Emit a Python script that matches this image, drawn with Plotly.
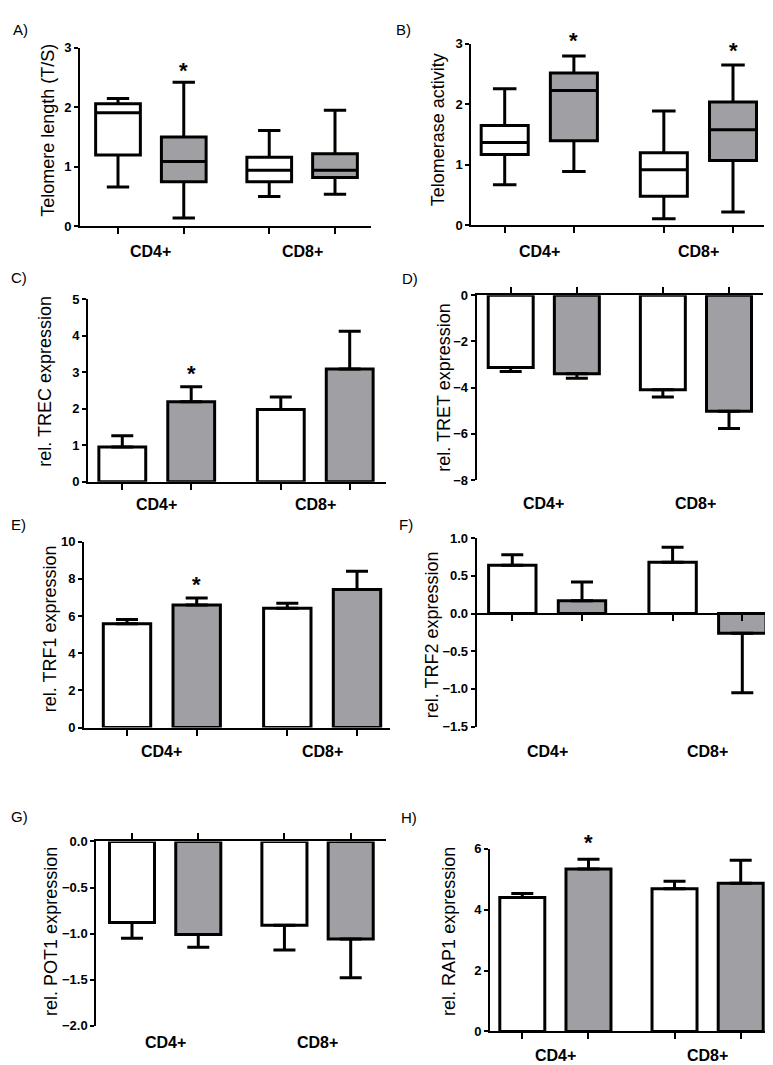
import plotly.graph_objects as go

# ---------------- data ----------------
groups = ["CD4+", "CD8+"]

# Panel A: Telomere length (T/S) box stats  [CD4 white, CD4 grey, CD8 white, CD8 grey]
A_lo = [0.66, 0.14, 0.50, 0.54]
A_q1 = [1.20, 0.75, 0.75, 0.82]
A_med = [1.91, 1.09, 0.94, 0.94]
A_q3 = [2.06, 1.50, 1.16, 1.22]
A_hi = [2.15, 2.42, 1.61, 1.95]
A_star = [None, 2.67, None, None]

# Panel B: Telomerase activity box stats
B_lo = [0.67, 0.89, 0.11, 0.22]
B_q1 = [1.17, 1.40, 0.48, 1.07]
B_med = [1.37, 2.23, 0.92, 1.58]
B_q3 = [1.65, 2.52, 1.20, 2.04]
B_hi = [2.26, 2.80, 1.89, 2.65]
B_star = [None, 3.10, None, 2.94]

# Bar panels: mean and error
C_mean = [0.95, 2.19, 1.98, 3.09]
C_err = [0.31, 0.41, 0.34, 1.03]
C_star = [None, 3.06, None, None]

D_mean = [-3.13, -3.40, -4.09, -5.02]
D_err = [0.17, 0.19, 0.31, 0.75]
D_star = [None, None, None, None]

E_mean = [5.58, 6.60, 6.42, 7.43]
E_err = [0.23, 0.37, 0.27, 0.98]
E_star = [None, 7.84, None, None]

F_mean = [0.64, 0.17, 0.68, -0.26]
F_err = [0.14, 0.25, 0.20, 0.79]
F_star = [None, None, None, None]

G_mean = [-0.88, -1.01, -0.91, -1.06]
G_err = [0.17, 0.14, 0.27, 0.42]
G_star = [None, None, None, None]

H_mean = [4.40, 5.34, 4.69, 4.87]
H_err = [0.13, 0.32, 0.24, 0.75]
H_star = [None, 6.29, None, None]

y_titles = {
    "A": "Telomere length (T/S)",
    "B": "Telomerase activity",
    "C": "rel. TREC expression",
    "D": "rel. TRET expression",
    "E": "rel. TRF1 expression",
    "F": "rel. TRF2 expression",
    "G": "rel. POT1 expression",
    "H": "rel. RAP1 expression",
}
y_ticks = {
    "A": [0, 1, 2, 3],
    "B": [0, 1, 2, 3],
    "C": [0, 1, 2, 3, 4, 5],
    "D": [0, -2, -4, -6, -8],
    "E": [0, 2, 4, 6, 8, 10],
    "F": [1.0, 0.5, 0.0, -0.5, -1.0, -1.5],
    "G": [0.0, -0.5, -1.0, -1.5, -2.0],
    "H": [0, 2, 4, 6],
}

# ---------------- layout / style ----------------
W, H = 773, 1065
FONT = "Liberation Sans, Arial, Helvetica, sans-serif"
GREY = "rgb(160,160,164)"
fills = ["white", GREY, "white", GREY]
xpos = [0, 1, 2.3, 3.3]
BW = 0.68

spec = {
    "A": dict(L=72, R=363, t0=110, t3=327, top=33.3, bot=214.3, yr=[0, 3], side="bottom", fmt="",
              cat_y=240, let=(3, 15), tt=(40, 117.5)),
    "B": dict(L=463.3, R=756, t0=496.7, t3=725, top=29.3, bot=213.3, yr=[0, 3], side="bottom", fmt="",
              cat_y=240, let=(386, 15), tt=(430, 117)),
    "C": dict(L=80, R=378.3, t0=114.3, t3=341.7, top=288.3, bot=473.3, yr=[0, 5], side="bottom", fmt="",
              cat_y=496.7, let=(1, 266), tt=(37, 372)),
    "D": dict(L=468.7, R=755.3, t0=502.7, t3=721, top=284.3, bot=471.7, yr=[-8, 0], side="top", fmt="",
              cat_y=495, let=(392, 267), tt=(436, 378)),
    "E": dict(L=76, R=381.7, t0=119, t3=349, top=534.3, bot=722.7, yr=[0, 10], side="bottom", fmt="",
              cat_y=746.7, let=(1, 517), tt=(42, 623)),
    "F": dict(L=468.7, R=766, t0=504.3, t3=734.3, top=530.7, bot=721.7, yr=[-1.5, 1.0], side="zero", fmt=".1f",
              cat_y=746.7, let=(389, 517), tt=(424, 629)),
    "G": dict(L=88.3, R=378.3, t0=124, t3=342.7, top=838.3, bot=1025, yr=[-2, 0], side="top", fmt=".1f",
              cat_y=1041.7, let=(1, 813), tt=(43, 930)),
    "H": dict(L=482, R=767.7, t0=514.3, t3=732.7, top=845.7, bot=1031, yr=[0, 6], side="bottom", fmt="",
              cat_y=1055, let=(391, 814), tt=(441, 930)),
}

box_data = {"A": (A_lo, A_q1, A_med, A_q3, A_hi, A_star),
            "B": (B_lo, B_q1, B_med, B_q3, B_hi, B_star)}
bar_data = {"C": (C_mean, C_err, C_star), "D": (D_mean, D_err, D_star),
            "E": (E_mean, E_err, E_star), "F": (F_mean, F_err, F_star),
            "G": (G_mean, G_err, G_star), "H": (H_mean, H_err, H_star)}

fig = go.Figure()
layout = {}
annotations = []


def px_x(x):
    return x / W


def px_y(y):
    return 1 - y / H


order = ["A", "B", "C", "D", "E", "F", "G", "H"]
for i, key in enumerate(order):
    s = spec[key]
    n = i + 1
    xa = "x" if n == 1 else f"x{n}"
    ya = "y" if n == 1 else f"y{n}"
    xname = "xaxis" if n == 1 else f"xaxis{n}"
    yname = "yaxis" if n == 1 else f"yaxis{n}"
    unit = (s["t3"] - s["t0"]) / (xpos[3] - xpos[0])
    xr = [(s["L"] - s["t0"]) / unit, (s["R"] - s["t0"]) / unit]
    ydom = [px_y(s["bot"]), px_y(s["top"])]
    y0, y1 = s["yr"]

    def to_paper(v, ydom=ydom, y0=y0, y1=y1):
        return ydom[0] + (v - y0) / (y1 - y0) * (ydom[1] - ydom[0])

    xaxis = dict(domain=[px_x(s["L"]), px_x(s["R"])], range=xr, tickvals=xpos,
                 showticklabels=False, ticks="outside", ticklen=6, tickwidth=2,
                 tickcolor="black", showline=True, linewidth=2, linecolor="black",
                 showgrid=False, zeroline=False, fixedrange=True)
    if s["side"] == "top":
        xaxis.update(side="top", anchor=ya)
    elif s["side"] == "zero":
        xaxis.update(anchor="free", position=to_paper(0))
    else:
        xaxis.update(anchor=ya)
    layout[xname] = xaxis

    yaxis = dict(domain=ydom, range=s["yr"], tickvals=y_ticks[key], anchor=xa,
                 ticks="outside", ticklen=4, tickwidth=2, tickcolor="black",
                 showline=True, linewidth=2, linecolor="black", showgrid=False,
                 zeroline=False, fixedrange=True,
                 tickfont=dict(family=FONT, size=13, color="black", weight="bold"))
    if s["fmt"]:
        yaxis["tickformat"] = s["fmt"]
    layout[yname] = yaxis

    if key in box_data:
        lo, q1, med, q3, hi, star = box_data[key]
        for j in range(4):
            fig.add_trace(go.Box(
                x=[xpos[j]], q1=[q1[j]], median=[med[j]], q3=[q3[j]],
                lowerfence=[lo[j]], upperfence=[hi[j]], width=BW,
                fillcolor=fills[j], line=dict(color="black", width=3),
                whiskerwidth=0.5, boxpoints=False, xaxis=xa, yaxis=ya,
                showlegend=False, hoverinfo="skip"))
    else:
        mean, err, star = bar_data[key]
        for c in range(2):
            idx = [c, c + 2]
            up = [err[j] if mean[j] >= 0 else 0 for j in idx]
            dn = [err[j] if mean[j] < 0 else 0 for j in idx]
            fig.add_trace(go.Bar(
                x=[xpos[j] for j in idx], y=[mean[j] for j in idx], width=BW,
                marker=dict(color=fills[c], line=dict(color="black", width=3)),
                error_y=dict(type="data", symmetric=False, array=up, arrayminus=dn,
                             thickness=3, width=11, color="black"),
                xaxis=xa, yaxis=ya, showlegend=False, hoverinfo="skip"))

    # significance stars (value -> paper, so stars above the axis range still show)
    for j in range(4):
        if star[j] is not None:
            annotations.append(dict(x=xpos[j], y=to_paper(star[j]), xref=xa, yref="paper",
                                    text="*", showarrow=False, yanchor="middle", yshift=-3,
                                    font=dict(family=FONT, size=22, color="black", weight="bold")))

    for g, name in enumerate(groups):
        cx = (xpos[2 * g] + xpos[2 * g + 1]) / 2
        annotations.append(dict(x=cx, y=px_y(s["cat_y"]), xref=xa, yref="paper", text=name,
                                showarrow=False, yanchor="middle",
                                font=dict(family=FONT, size=16, color="black", weight="bold")))
    annotations.append(dict(x=px_x(s["tt"][0]), y=px_y(s["tt"][1]), xref="paper", yref="paper",
                            text=y_titles[key], textangle=-90, showarrow=False,
                            xanchor="center", yanchor="middle",
                            font=dict(family=FONT, size=18, color="black")))
    annotations.append(dict(x=px_x(s["let"][0]), y=px_y(s["let"][1]), xref="paper", yref="paper",
                            text=key + ")", showarrow=False, xanchor="left", yanchor="middle",
                            font=dict(family=FONT, size=15, color="black")))

fig.update_layout(**layout)
fig.update_layout(width=W, height=H, margin=dict(l=0, r=0, t=0, b=0),
                  paper_bgcolor="white", plot_bgcolor="white", barmode="overlay",
                  boxmode="overlay", showlegend=False, annotations=annotations,
                  font=dict(family=FONT, color="black"))

fig.write_html("out.html")
